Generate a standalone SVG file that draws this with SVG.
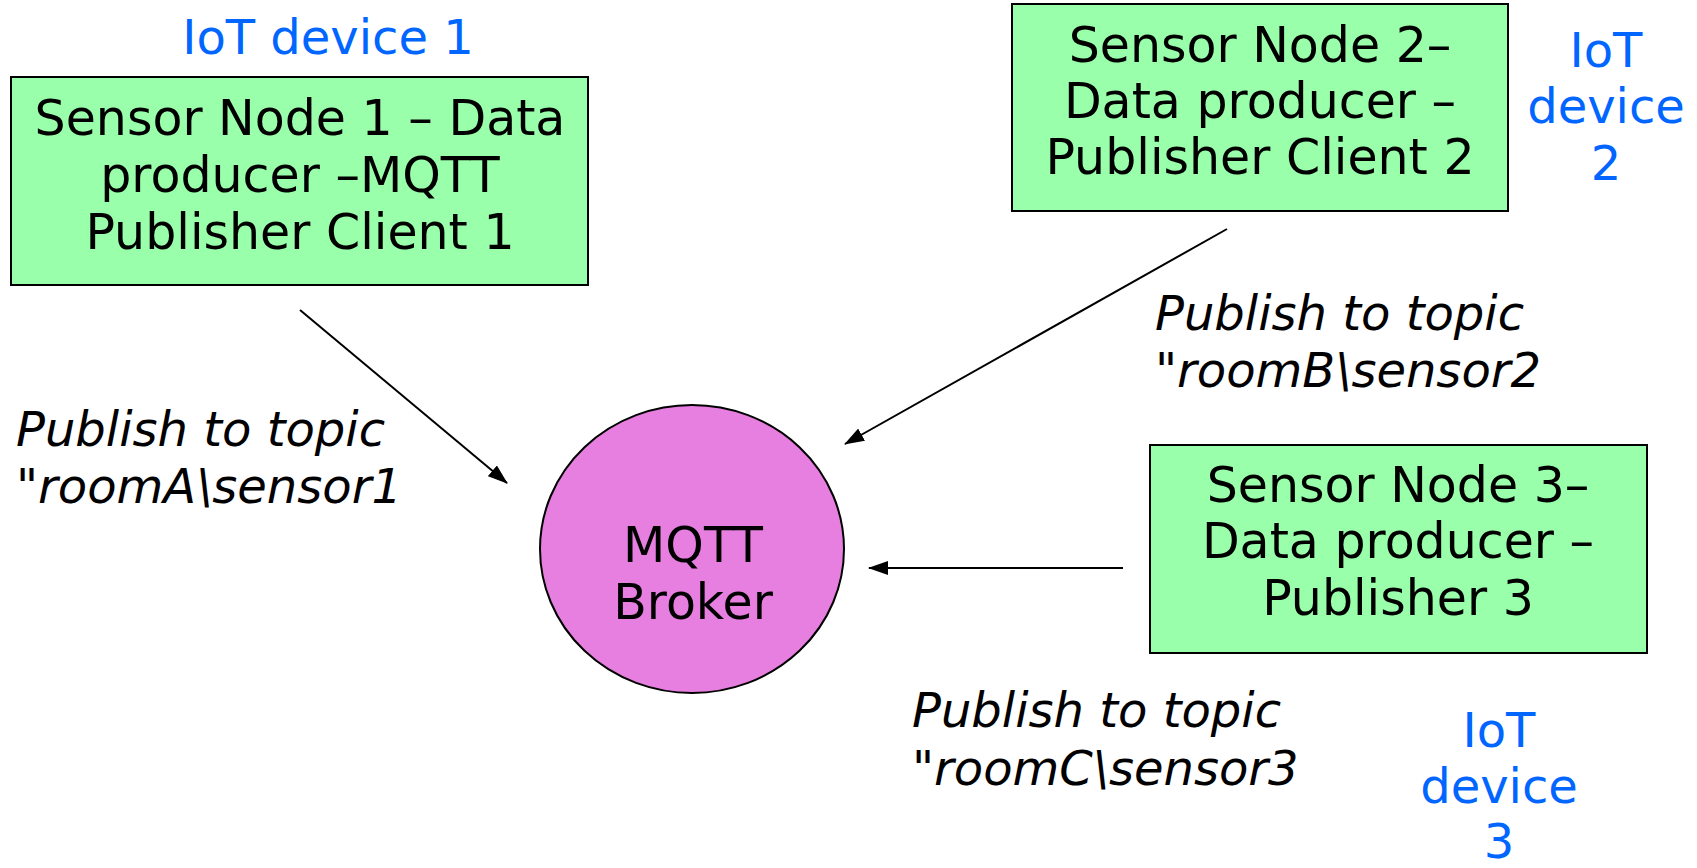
<svg xmlns="http://www.w3.org/2000/svg" width="1697" height="868" viewBox="0 0 1697 868">
  <style>
    .box { fill: #99ffaa; stroke: #000; stroke-width: 2; }
    .broker { fill: #e67fdf; stroke: #000; stroke-width: 2; }
    .node-text { font-family: "DejaVu Sans", Verdana, sans-serif; font-size: 49px; fill: #000; text-anchor: middle; }
    .device { font-family: "DejaVu Sans", Verdana, sans-serif; font-size: 48px; fill: #0066ff; text-anchor: middle; }
    .topic { font-family: "DejaVu Sans", Verdana, sans-serif; font-size: 48px; font-style: italic; fill: #000; }
    .link { stroke: #000; stroke-width: 2; fill: none; marker-end: url(#arrow); }
  </style>
  <defs>
    <marker id="arrow" viewBox="0 0 20 14" refX="19" refY="7" markerWidth="20" markerHeight="14" markerUnits="userSpaceOnUse" orient="auto">
      <path d="M0,0 L20,7 L0,14 Z" fill="#000"/>
    </marker>
  </defs>

  <rect width="1697" height="868" fill="#fff"/>

  <!-- publishers -->
  <g id="sensor-node-1">
    <text class="device" x="328" y="54">IoT device 1</text>
    <rect class="box" x="11" y="77" width="577" height="208"/>
    <text class="node-text" x="300" y="135">Sensor Node 1 – Data</text>
    <text class="node-text" x="300" y="192">producer –MQTT</text>
    <text class="node-text" x="300" y="249">Publisher Client 1</text>
  </g>

  <g id="sensor-node-2">
    <rect class="box" x="1012" y="4" width="496" height="207"/>
    <text class="node-text" x="1260" y="62">Sensor Node 2–</text>
    <text class="node-text" x="1260" y="118">Data producer –</text>
    <text class="node-text" x="1260" y="174">Publisher Client 2</text>
    <text class="device" x="1606" y="67">IoT</text>
    <text class="device" x="1606" y="123">device</text>
    <text class="device" x="1606" y="180">2</text>
  </g>

  <g id="sensor-node-3">
    <rect class="box" x="1150" y="445" width="497" height="208"/>
    <text class="node-text" x="1398" y="502">Sensor Node 3–</text>
    <text class="node-text" x="1398" y="558">Data producer –</text>
    <text class="node-text" x="1398" y="615">Publisher 3</text>
    <text class="device" x="1499" y="747">IoT</text>
    <text class="device" x="1499" y="803">device</text>
    <text class="device" x="1499" y="858">3</text>
  </g>

  <!-- broker -->
  <g id="mqtt-broker">
    <ellipse class="broker" cx="692" cy="549" rx="152" ry="144"/>
    <text class="node-text" x="693" y="562">MQTT</text>
    <text class="node-text" x="693" y="619">Broker</text>
  </g>

  <!-- publish connectors with topic labels -->
  <g id="connectors">
    <line class="link" x1="300" y1="310" x2="507" y2="483"/>
    <line class="link" x1="1227" y1="229" x2="845" y2="444"/>
    <line class="link" x1="1123" y1="568" x2="869" y2="568"/>
    <text class="topic" x="16" y="446">Publish to topic</text>
    <text class="topic" x="16" y="503">"roomA\sensor1</text>
    <text class="topic" x="1155" y="330">Publish to topic</text>
    <text class="topic" x="1155" y="387">"roomB\sensor2</text>
    <text class="topic" x="912" y="727">Publish to topic</text>
    <text class="topic" x="912" y="785">"roomC\sensor3</text>
  </g>
</svg>
